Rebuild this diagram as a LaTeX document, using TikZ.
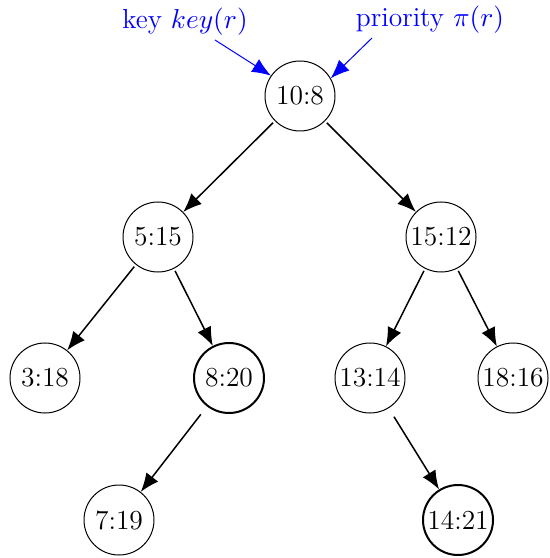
\documentclass[tikz,border=0pt]{standalone}
\usetikzlibrary{arrows.meta}
\begin{document}
\begin{tikzpicture}[x=0.4pt,y=-0.4pt,
  treenode/.style={circle,draw,minimum size=28pt,inner sep=0pt,font=\fontsize{11}{13}\selectfont},
  heavy/.style={treenode,thick},
  edge/.style={semithick,-{Latex[length=7.5pt,width=6pt]},shorten <=1pt},
  hint/.style={blue,-{Latex[length=7.5pt,width=6pt]}},
  hinttext/.style={blue,font=\fontsize{11}{13}\selectfont}]
\useasboundingbox (0,0) rectangle (549,558);
\node[treenode] (n10) at (300,96) {10:8};
\node[treenode] (n5) at (158,237) {5:15};
\node[treenode] (n15) at (441,237) {15:12};
\node[treenode] (n3) at (45,378) {3:18};
\node[heavy] (n8) at (229,378) {8:20};
\node[treenode] (n13) at (370,378) {13:14};
\node[treenode] (n18) at (513,378) {18:16};
\node[treenode] (n7) at (119,520) {7:19};
\node[heavy] (n14) at (458,520) {14:21};
\draw[edge] (n10) -- (n5);
\draw[edge] (n10) -- (n15);
\draw[edge] (n5) -- (n3);
\draw[edge] (n5) -- (n8);
\draw[edge] (n15) -- (n13);
\draw[edge] (n15) -- (n18);
\draw[edge,shorten <=4pt] (n8) -- (n7);
\draw[edge,shorten <=4pt] (n13) -- (n14);
\node[hinttext] (kl) at (185,22) {key $key(r)$};
\node[hinttext] (pl) at (430,20) {priority $\pi(r)$};
\coordinate (ks) at (215,40);
\coordinate (ps) at (372,38);
\draw[hint] (ks) -- (n10.145);
\draw[hint] (ps) -- (n10.30);
\end{tikzpicture}
\end{document}
